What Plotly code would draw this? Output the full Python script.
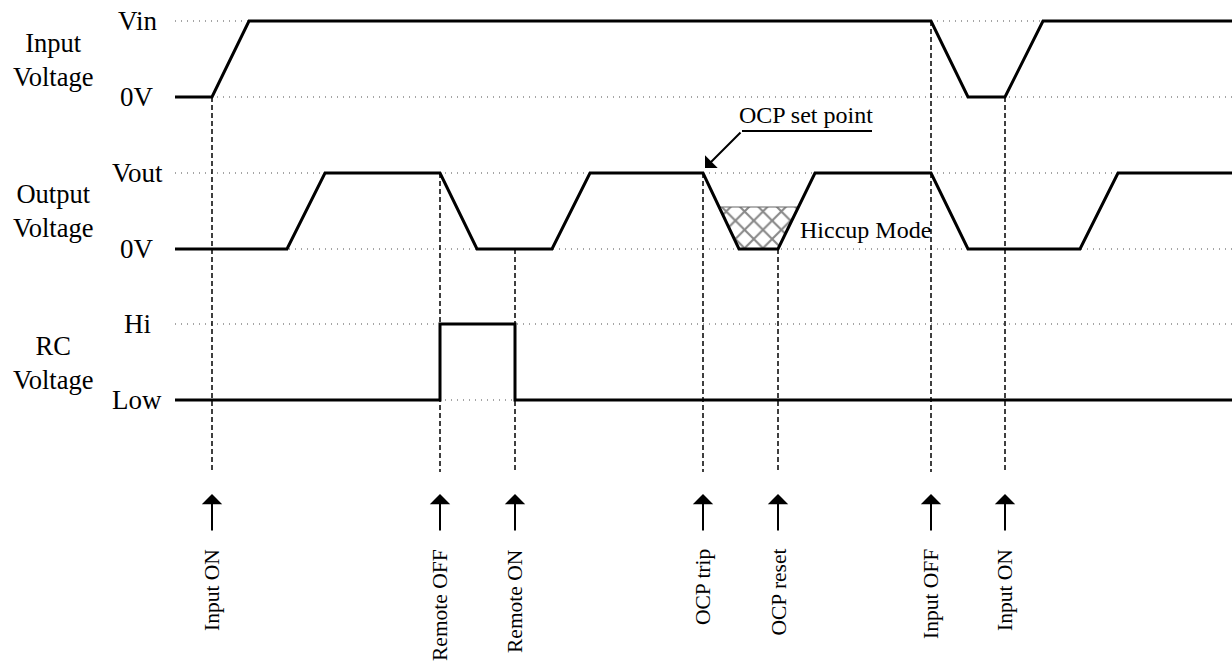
import plotly.graph_objects as go

# ---- signal levels (vertical positions on the diagram axis) ----
IN_HI, IN_LO = 21, 97
OUT_HI, OUT_LO = 173, 249
RC_HI, RC_LO = 324, 400
X_START, X_END = 175, 1232

# ---- waveforms ----
t_input = [175, 212, 249, 931, 968, 1005, 1043, 1232]
y_input = [IN_LO, IN_LO, IN_HI, IN_HI, IN_LO, IN_LO, IN_HI, IN_HI]

t_output = [175, 287, 325, 440, 477, 552, 590, 703, 739, 778, 815, 931, 968, 1080, 1118, 1232]
y_output = [OUT_LO, OUT_LO, OUT_HI, OUT_HI, OUT_LO, OUT_LO, OUT_HI, OUT_HI,
            OUT_LO, OUT_LO, OUT_HI, OUT_HI, OUT_LO, OUT_LO, OUT_HI, OUT_HI]

t_rc = [175, 440, 440, 515, 515, 1232]
y_rc = [RC_LO, RC_LO, RC_HI, RC_HI, RC_LO, RC_LO]

# hiccup hatched region
t_hiccup = [719, 798.5, 778, 739, 719]
y_hiccup = [207, 207, OUT_LO, OUT_LO, 207]

# ---- events ----
event_t = [212, 440, 515, 703, 778, 931, 1005]
event_top = [IN_LO, OUT_HI, OUT_LO, OUT_HI, OUT_LO, IN_HI, IN_LO]
event_labels = ["Input ON", "Remote OFF", "Remote ON", "OCP trip", "OCP reset", "Input OFF", "Input ON"]
EVENT_BOTTOM = 472
ARROW_TAIL, ARROW_TIP = 532, 494
LABEL_TOP = 547

# ---- level labels ----
level_y = [IN_HI, IN_LO, OUT_HI, OUT_LO, RC_HI, RC_LO]
level_text = ["Vin", "0V", "Vout", "0V", "Hi", "Low"]
group_text = ["Input<br>Voltage", "Output<br>Voltage", "RC<br>Voltage"]
group_y = [59.5, 211, 362.5]

FONT = "Liberation Serif"

fig = go.Figure()

# dotted reference levels
for ly in level_y:
    fig.add_trace(go.Scatter(x=[X_START, X_END], y=[ly, ly], mode="lines",
                             line=dict(color="#888888", width=1.3, dash="1px,5px"),
                             hoverinfo="skip", showlegend=False))

# dashed event lines
for et, top in zip(event_t, event_top):
    fig.add_trace(go.Scatter(x=[et, et], y=[top, EVENT_BOTTOM], mode="lines",
                             line=dict(color="black", width=1.5, dash="5px,3px"),
                             hoverinfo="skip", showlegend=False))

# hiccup hatch
fig.add_trace(go.Scatter(x=t_hiccup, y=y_hiccup, mode="lines", fill="toself",
                         line=dict(color="#666666", width=1.2),
                         fillcolor="white",
                         fillpattern=dict(shape="x", size=13, solidity=0.3,
                                          fgcolor="#111111", bgcolor="white"),
                         hoverinfo="skip", showlegend=False))

# waveforms
for tx, ty in [(t_input, y_input), (t_output, y_output), (t_rc, y_rc)]:
    fig.add_trace(go.Scatter(x=tx, y=ty, mode="lines",
                             line=dict(color="black", width=3),
                             hoverinfo="skip", showlegend=False))

# OCP set point underline
fig.add_trace(go.Scatter(x=[742, 872], y=[131, 131], mode="lines",
                         line=dict(color="black", width=2),
                         hoverinfo="skip", showlegend=False))

ann = []
# level labels
for ly, lt in zip(level_y, level_text):
    ann.append(dict(x=137, y=ly, text=lt, showarrow=False, xanchor="center", yanchor="middle",
                    font=dict(family=FONT, size=27, color="black")))
# group labels
for gy, gt in zip(group_y, group_text):
    ann.append(dict(x=52.5, y=gy, text=gt, showarrow=False, xanchor="center", yanchor="middle",
                    font=dict(family=FONT, size=26.5, color="black")))
# event arrows and labels
for et, el in zip(event_t, event_labels):
    ann.append(dict(x=et, y=ARROW_TIP, ax=et, ay=ARROW_TAIL, axref="x", ayref="y",
                    text="", showarrow=True, arrowhead=1, arrowsize=1.7, arrowwidth=2,
                    arrowcolor="black"))
    ann.append(dict(x=et, y=LABEL_TOP, text=el, showarrow=False, textangle=-90,
                    xanchor="center", yanchor="top",
                    font=dict(family=FONT, size=21.5, color="black")))
# OCP set point
ann.append(dict(x=806, y=115, text="OCP set point", showarrow=False, xanchor="center", yanchor="middle",
                font=dict(family=FONT, size=24, color="black")))
ann.append(dict(x=705, y=168, ax=742, ay=131, axref="x", ayref="y", text="", showarrow=True,
                arrowhead=1, arrowsize=1.5, arrowwidth=2, arrowcolor="black"))
# Hiccup mode
ann.append(dict(x=798, y=230, text="Hiccup Mode", showarrow=False, xanchor="left", yanchor="middle",
                font=dict(family=FONT, size=24, color="black")))

fig.update_layout(
    width=1232, height=661,
    margin=dict(l=0, r=0, t=0, b=0),
    paper_bgcolor="white", plot_bgcolor="white",
    xaxis=dict(range=[0, 1232], visible=False, fixedrange=True),
    yaxis=dict(range=[661, 0], visible=False, fixedrange=True),
    annotations=ann,
    showlegend=False,
    hovermode=False,
)

fig.write_html("out.html",
               config={"displayModeBar": False, "staticPlot": True},
               post_script="document.body.style.margin='0';document.body.style.overflow='hidden';")
